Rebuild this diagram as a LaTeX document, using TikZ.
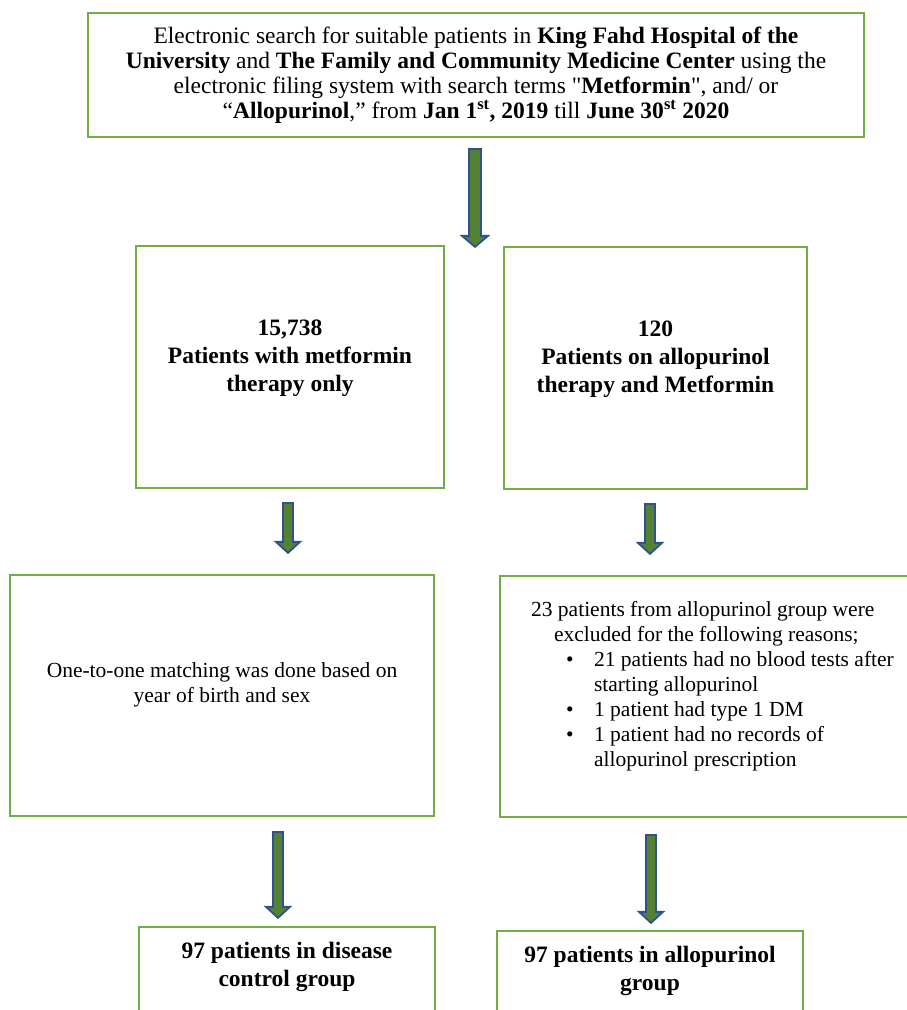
\documentclass[tikz,border=0pt]{standalone}
\usepackage{fontspec}
\setmainfont{Liberation Serif}[Ligatures=TeXOff]
\usetikzlibrary{calc}
\definecolor{boxgreen}{RGB}{112,173,71}
\definecolor{arrowgreen}{RGB}{84,130,53}
\definecolor{arrowblue}{RGB}{47,82,143}
\newcommand{\bulletitem}{\makebox[63pt][l]{\hspace*{35pt}\textbullet}}
\newcommand{\bulletcont}{\hspace*{63pt}}

\begin{document}
\begin{tikzpicture}[x=1pt,y=1pt,
  normaltext/.style={font=\fontsize{21.5}{25}\selectfont},
  widetext/.style={font=\fontsize{23.5}{25}\selectfont},
  headtext/.style={font=\fontsize{23.5}{28}\selectfont\bfseries},
  box/.style={draw=boxgreen,line width=2.2pt,inner sep=0pt,align=center},
  blockarrow/.style={fill=arrowgreen,draw=arrowblue,line width=1.8pt,line join=miter}]
\useasboundingbox (0,0) rectangle (906,1010);
\node[box,widetext,minimum width=776pt,minimum height=124pt](top) at(476,935){Electronic search for suitable patients in \textbf{King Fahd Hospital of the}\\\textbf{University} and \textbf{The Family and Community Medicine Center} using the\\electronic filing system with search terms "\textbf{Metformin}", and/ or\\“\textbf{Allopurinol},” from \textbf{Jan 1\textsuperscript{st}, 2019} till \textbf{June 30\textsuperscript{st} 2020}};
\node[box,headtext,minimum width=308pt,minimum height=242pt](lone) at(290,643){15,738\\Patients with metformin\\therapy only\\[-5pt]\mbox{}};
\node[box,headtext,minimum width=303pt,minimum height=242pt](rone) at(655.5,642){120\\Patients on allopurinol\\therapy and Metformin\\[-5pt]\mbox{}};
\node[box,normaltext,minimum width=424pt,minimum height=241pt](ltwo) at(222,314.5){One-to-one matching was done based on\\year of birth and sex\\\mbox{}};
\node[box,normaltext,align=left,anchor=west,inner xsep=31pt,minimum height=241pt](rtwo) at(499,313.5){23 patients from allopurinol group were\\\hspace*{23pt}excluded for the following reasons;\\\bulletitem 21 patients had no blood tests after\\\bulletcont starting allopurinol\\\bulletitem 1 patient had type 1 DM\\\bulletitem 1 patient had no records of\\\bulletcont allopurinol prescription\\\mbox{}};
\node[box,headtext,minimum width=296pt,minimum height=103pt](lthree) at(287,31.5){97 patients in disease\\control group\\\mbox{}};
\node[box,headtext,minimum width=306pt,minimum height=102pt](rthree) at(650,28){97 patients in allopurinol\\group\\\mbox{}};
\foreach \s/\d/\ax/\ga/\gb/\w in {top/lone/475/11/-2/6,lone/ltwo/288/14/21/5,rone/rtwo/650/14/21/5,ltwo/lthree/278/15/8/5,rtwo/rthree/651/17/7/5}
  \path[blockarrow] let \p1=(\s.south),\p2=(\d.north) in
    ({(\ax-\w)*1pt},{\y1-\ga pt}) -- ({(\ax+\w)*1pt},{\y1-\ga pt})
    -- ({(\ax+\w)*1pt},{\y2+(\gb pt)+11pt}) -- ({(\ax+\w+7)*1pt},{\y2+(\gb pt)+11pt})
    -- ({\ax pt},{\y2+(\gb pt)}) -- ({(\ax-\w-7)*1pt},{\y2+(\gb pt)+11pt})
    -- ({(\ax-\w)*1pt},{\y2+(\gb pt)+11pt}) -- cycle;
\end{tikzpicture}
\end{document}
